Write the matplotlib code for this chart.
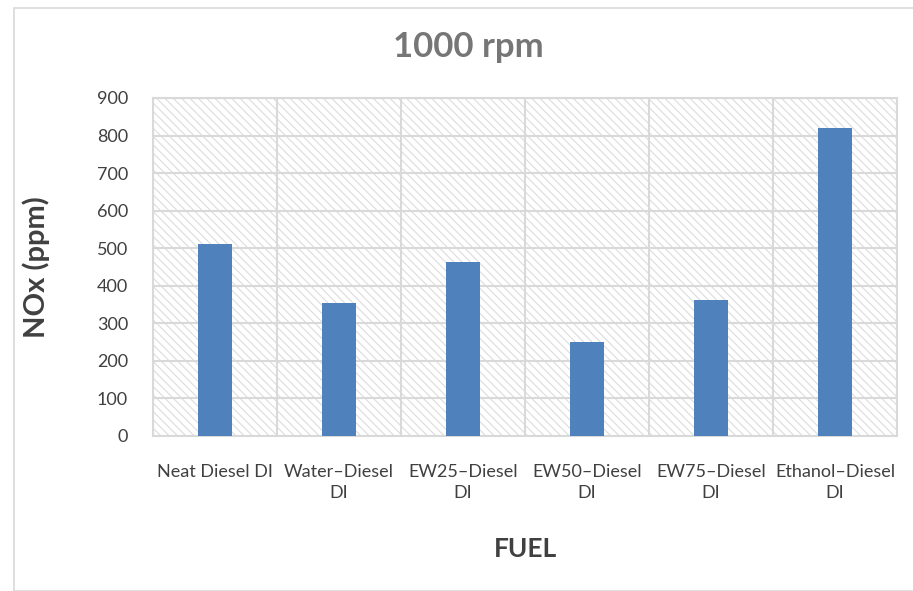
import matplotlib.pyplot as plt
import numpy as np
from matplotlib.patches import Rectangle

fuels = ['Neat Diesel DI', 'Water\u2013Diesel\nDI', 'EW25\u2013Diesel\nDI',
         'EW50\u2013Diesel\nDI', 'EW75\u2013Diesel\nDI', 'Ethanol\u2013Diesel\nDI']
nox = [512, 354, 463, 250, 362, 820]
y_ticks = [0, 100, 200, 300, 400, 500, 600, 700, 800, 900]

plt.rcParams['font.family'] = ['Lato', 'DejaVu Sans']
plt.rcParams['hatch.color'] = '#dcdcdc'
plt.rcParams['hatch.linewidth'] = 0.8

fig = plt.figure(figsize=(9.13, 5.91), dpi=100)
# chart frame
fig.patches.append(Rectangle((14 / 913, 0), 1, 583 / 591, transform=fig.transFigure,
                             fill=False, edgecolor='#d9d9d9', linewidth=1.2))

ax = fig.add_axes([153 / 913, 1 - 436 / 591, 744 / 913, 338 / 591])
x = np.arange(len(fuels))

# hatched background behind the bars
ax.add_patch(Rectangle((0, 0), 1, 1, transform=ax.transAxes, facecolor='white',
                       edgecolor='#dcdcdc', hatch='\\\\\\\\', linewidth=0, zorder=0))
ax.bar(x, nox, width=0.28, color='#4f81bd', zorder=3)

ax.set_xlim(-0.5, len(fuels) - 0.5)
ax.set_ylim(0, 900)
ax.set_yticks(y_ticks)
ax.set_xticks(x)
ax.set_xticklabels(fuels, fontsize=13, color='#404040', linespacing=1.4)
ax.tick_params(axis='y', labelsize=13, labelcolor='#404040', length=0, pad=18)
ax.tick_params(axis='x', length=0, pad=20)

# horizontal and vertical grid
ax.grid(axis='y', color='#d9d9d9', linewidth=1.5, zorder=1)
for b in np.arange(-0.5, len(fuels), 1.0):
    ax.axvline(b, color='#d9d9d9', linewidth=1.5, zorder=1)
for s in ax.spines.values():
    s.set_color('#d9d9d9')
    s.set_linewidth(1.5)

fig.text(468 / 913, 1 - 47 / 591, '1000 rpm', fontsize=25, fontweight='bold',
         color='#767676', ha='center', va='center')
ax.set_ylabel('NOx (ppm)', fontsize=21, fontweight='bold', color='#404040', labelpad=34)
ax.set_xlabel('FUEL', fontsize=19, fontweight='bold', color='#404040', labelpad=26)

fig.savefig('out.png', dpi=100)
